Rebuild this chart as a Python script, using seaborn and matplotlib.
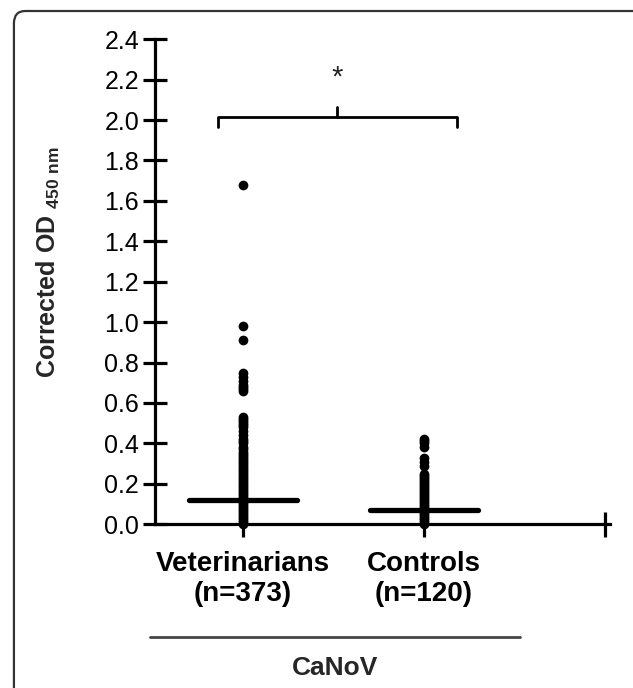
import numpy as np
import pandas as pd
import matplotlib
matplotlib.use("Agg")
import matplotlib.pyplot as plt
from matplotlib.patches import FancyBboxPatch
import seaborn as sns

# group labels shown under the axis
groups = ["Veterinarians\n(n=373)", "Controls\n(n=120)"]

# corrected OD values (overlapping dots read once)
vet_od = [1.68, 0.98, 0.91, 0.75, 0.73, 0.71, 0.69, 0.68, 0.67, 0.66,
          0.53, 0.52, 0.51, 0.50, 0.49, 0.48, 0.46, 0.44, 0.42, 0.41,
          0.40, 0.38, 0.37, 0.36, 0.35, 0.34, 0.33, 0.32, 0.31, 0.30,
          0.29, 0.28, 0.27, 0.26, 0.25, 0.24, 0.23, 0.22, 0.21, 0.20,
          0.19, 0.18, 0.17, 0.16, 0.15, 0.14, 0.13, 0.12, 0.11, 0.10,
          0.09, 0.08, 0.07, 0.06, 0.05, 0.04, 0.03, 0.02, 0.01, 0.00]
ctrl_od = [0.42, 0.41, 0.40, 0.38, 0.33, 0.31, 0.29, 0.25, 0.24, 0.23,
           0.22, 0.21, 0.20, 0.19, 0.18, 0.17, 0.16, 0.15, 0.14, 0.13,
           0.12, 0.11, 0.10, 0.09, 0.08, 0.07, 0.06, 0.05, 0.04, 0.03,
           0.02, 0.01, 0.00]

# medians drawn as horizontal bars
medians = [0.12, 0.07]

df = pd.DataFrame({
    "group": [groups[0]] * len(vet_od) + [groups[1]] * len(ctrl_od),
    "od": vet_od + ctrl_od,
})

sns.set_theme(style="ticks")
plt.rcParams["font.family"] = ["Liberation Sans", "DejaVu Sans"]
plt.rcParams["mathtext.fontset"] = "custom"
plt.rcParams["mathtext.rm"] = "Liberation Sans:bold"
plt.rcParams["mathtext.bf"] = "Liberation Sans:bold"

fig = plt.figure(figsize=(6.33, 6.88), dpi=100)
ax = fig.add_axes([0.245, 0.238, 0.719, 0.705])

sns.stripplot(data=df, x="group", y="od", order=groups, jitter=False,
              color="black", size=7, ax=ax, zorder=5)
for coll in ax.collections:
    coll.set_clip_on(False)

# median bars
lc = ax.hlines(medians, np.arange(len(medians)) - 0.3, np.arange(len(medians)) + 0.3,
               colors="black", linewidth=3.8, zorder=6)
lc.set_capstyle("round")

ax.set_xlim(-0.486, 2.03)
ax.set_ylim(0, 2.4)
ax.set_yticks(np.arange(0, 2.41, 0.2))
ax.set_yticklabels([f"{v:.1f}" for v in np.arange(0, 2.41, 0.2)])
ax.set_xticks([0, 1, 2])
ax.set_xticklabels(groups + [""], fontweight="bold", fontsize=20)

sns.despine(ax=ax)
for s in ["left", "bottom"]:
    ax.spines[s].set_linewidth(2.3)
    ax.spines[s].set_color("black")
ax.tick_params(axis="y", direction="inout", length=17, width=2.3,
               labelsize=18, pad=3, colors="black")
ax.tick_params(axis="x", direction="inout", length=18, width=2.3,
               pad=10, colors="black")

ax.set_xlabel("")
ax.set_ylabel(r"Corrected OD $_{\mathbf{450\ nm}}$", fontsize=18, fontweight="bold")
ax.yaxis.set_label_coords(-0.205, 0.54)

# significance bracket
b_left, b_right, b_top, b_drop, b_mid = -0.138, 1.182, 2.015, 0.05, 0.52
ax.plot([b_left, b_left, b_right, b_right], [b_top - b_drop, b_top, b_top, b_top - b_drop],
        color="black", linewidth=2, solid_joinstyle="round", clip_on=False)
ax.plot([b_mid, b_mid], [b_top, b_top + 0.05], color="black", linewidth=2, clip_on=False)
ax.text(b_mid, 2.21, "*", ha="center", va="center", fontsize=21, color="#222222")

# grouping line and label under the axis
ax.plot([-0.011, 0.802], [-0.233, -0.233], transform=ax.transAxes,
        color="#444444", linewidth=2, clip_on=False)
ax.text(0.396, -0.297, "CaNoV", transform=ax.transAxes, ha="center", va="center",
        fontsize=19, fontweight="bold")

# rounded frame (only top and left visible, as cropped)
frame = FancyBboxPatch((0.022, -0.2), 1.2, 1.184, transform=fig.transFigure,
                       boxstyle="round,pad=0,rounding_size=0.018",
                       facecolor="none", edgecolor="#333333", linewidth=1.6)
fig.patches.append(frame)

fig.savefig("out.png", dpi=100)
